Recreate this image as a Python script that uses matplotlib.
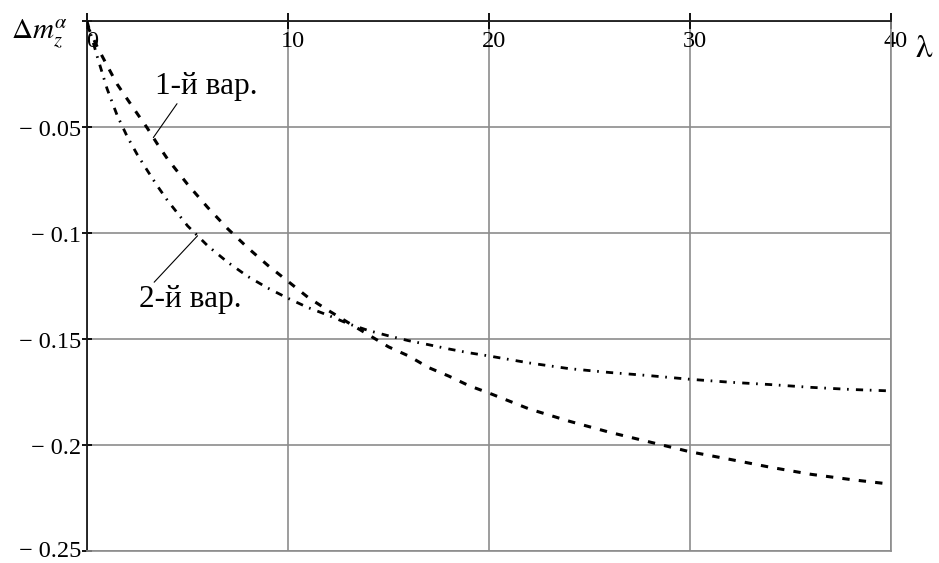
import matplotlib
matplotlib.use("Agg")
import matplotlib.pyplot as plt
from matplotlib.transforms import ScaledTranslation
import numpy as np

# Parameter lambda and the two variants of the moment coefficient increment
lam = [0, 0.5, 1, 1.5, 2, 2.5, 3, 3.5, 4, 5, 6, 7, 8, 9, 10, 11, 12, 13, 14,
       15, 16, 17, 18, 19, 20, 22, 24, 26, 28, 30, 32, 34, 36, 38, 40]
var1 = [-0.002, -0.012, -0.021, -0.0298, -0.0368, -0.0437, -0.0505, -0.058,
        -0.065, -0.077, -0.0879, -0.098, -0.107, -0.1153, -0.1228, -0.1304,
        -0.1365, -0.1423, -0.148, -0.1537, -0.158, -0.1635, -0.1675, -0.172,
        -0.1755, -0.183, -0.1888, -0.1940, -0.1986, -0.2032, -0.2068, -0.2105,
        -0.2138, -0.2163, -0.2185]
var2 = [0.0, -0.0165, -0.032, -0.0445, -0.0545, -0.063, -0.0705, -0.0778,
        -0.0846, -0.0966, -0.106, -0.1138, -0.1205, -0.126, -0.1308, -0.1352,
        -0.1388, -0.1428, -0.146, -0.1485, -0.1508, -0.1527, -0.1547, -0.1565,
        -0.158, -0.1613, -0.164, -0.1658, -0.1673, -0.169, -0.1704, -0.1715,
        -0.1728, -0.1738, -0.1745]

xticks = [0, 10, 20, 30, 40]
xtick_labels = ["0", "10", "20", "30", "40"]
yticks = [0, -0.05, -0.1, -0.15, -0.2, -0.25]
ytick_labels = ["", "\u2212 0.05", "\u2212 0.1", "\u2212 0.15", "\u2212 0.2", "\u2212 0.25"]

label1 = "1-й вар."
label2 = "2-й вар."

plt.rcParams["font.family"] = ["Liberation Serif", "DejaVu Serif"]
plt.rcParams["mathtext.fontset"] = "stix"

W, H = 939, 563
fig = plt.figure(figsize=(W / 100, H / 100), dpi=100)
ax = fig.add_axes([87 / W, 1 - 551 / H, (891 - 87) / W, (551 - 21) / H])

ax.plot(lam, var1, color="black", lw=2.2, linestyle=(0, (2.4, 3.0)),
        dash_capstyle="butt", zorder=3)
ax.plot(lam, var2, color="black", lw=2.0, linestyle=(0, (2.6, 2.4, 0.6, 2.6)),
        dash_capstyle="butt", zorder=3)

ax.set_xlim(0, 40)
ax.set_ylim(-0.25, 0)

grid_col = "#8c8c8c"
ax.set_axisbelow(True)
ax.grid(True, color=grid_col, lw=1.2)

for side in ("right", "bottom"):
    ax.spines[side].set_color(grid_col)
    ax.spines[side].set_linewidth(1.2)
for side in ("top", "left"):
    ax.spines[side].set_color("#1a1a1a")
    ax.spines[side].set_linewidth(1.3)

ax.set_xticks(xticks)
ax.set_xticklabels(xtick_labels)
ax.set_yticks(yticks)
ax.set_yticklabels(ytick_labels)

ax.tick_params(axis="x", top=True, bottom=False, labeltop=True,
               labelbottom=False, direction="inout", length=11, width=1.3,
               color="black", pad=-12.5, labelsize=17.5)
ax.tick_params(axis="y", left=True, right=False, direction="inout",
               length=7, width=1.3, color="black", pad=0.5, labelsize=17.5)

dx = ScaledTranslation(5 / 100, 0, fig.dpi_scale_trans)
for lbl in ax.get_xticklabels():
    lbl.set_va("top")
    lbl.set_transform(lbl.get_transform() + dx)
ylbls = ax.get_yticklabels()
for i, lbl in enumerate(ylbls):
    shift = 2.0 if i == len(ylbls) - 1 else -1.5
    lbl.set_transform(lbl.get_transform()
                      + ScaledTranslation(0, shift / 100, fig.dpi_scale_trans))

# leader lines from the labels to the curves
p1 = 3.3
ax.annotate(label1, xy=(p1, np.interp(p1, lam, var1)), xytext=(3.38, -0.0344),
            ha="left", va="baseline", fontsize=22.5,
            arrowprops=dict(arrowstyle="-", lw=0.8, color="black",
                            relpos=(0.25, 0.08), shrinkA=0, shrinkB=0))
p2 = 5.5
ax.annotate(label2, xy=(p2, np.interp(p2, lam, var2)), xytext=(2.6, -0.1349),
            ha="left", va="baseline", fontsize=22.5,
            arrowprops=dict(arrowstyle="-", lw=0.8, color="black",
                            relpos=(0.12, 1.0), shrinkA=0, shrinkB=0))

fig.text(11 / W, 1 - 38 / H, r"$\Delta m_z^{\alpha}$", fontsize=21,
         ha="left", va="baseline")
fig.text(916 / W, 1 - 57 / H, "λ", fontsize=24, family="STIXGeneral",
         ha="left", va="baseline")

fig.savefig("out.png", dpi=100)
